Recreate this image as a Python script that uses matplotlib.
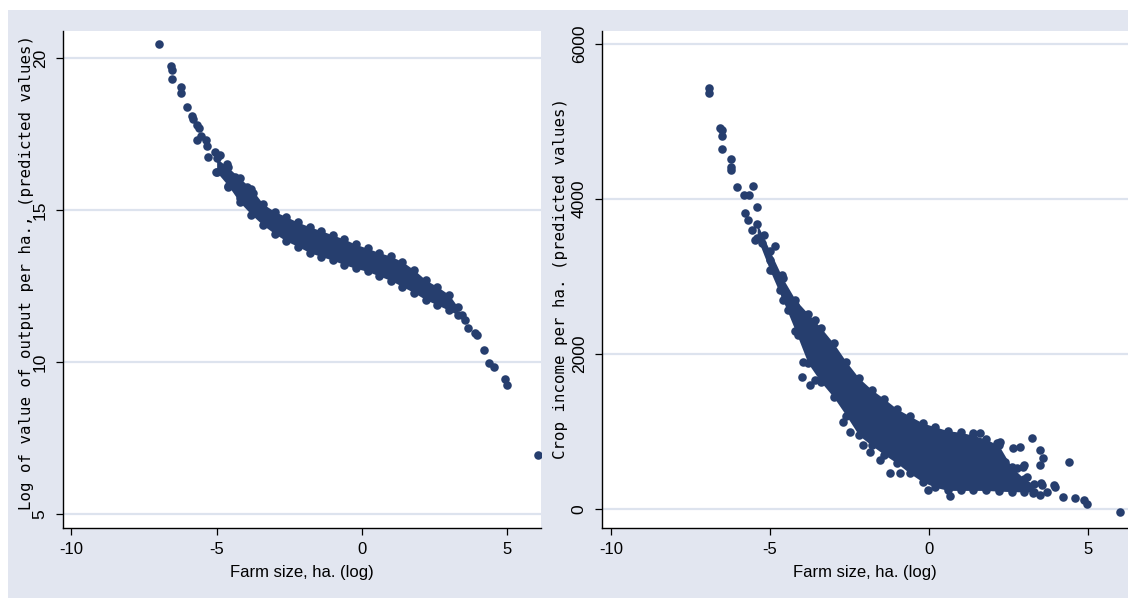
import matplotlib
matplotlib.use("Agg")
import matplotlib.pyplot as plt
from matplotlib import font_manager as fm
from matplotlib.patches import Rectangle

# --- fonts ---
names = {f.name for f in fm.fontManager.ttflist}
narrow = "Liberation Sans Narrow" if "Liberation Sans Narrow" in names else "Liberation Sans"

navy = "#263e6e"
bg = "#e2e6f0"
grid_c = "#dde3ee"

# --- left panel: log value of output per ha. ---
left_tail_x = [-6.97, -6.56, -6.54, -6.52, -6.24, -6.24, -6.02, -5.84, -5.83, -5.66,
               -5.59, -5.66, -5.55, -5.37, -5.34, -5.3, -5.07, -5.01, -4.9, -4.65,
               -4.62, -4.38, -4.2, -3.97, -3.75]
left_tail_y = [20.46, 19.73, 19.6, 19.3, 19.05, 18.85, 18.39, 18.1, 17.99, 17.8,
               17.7, 17.3, 17.45, 17.3, 17.1, 16.75, 16.92, 16.26, 16.8, 16.5,
               15.75, 16.1, 15.4, 15.75, 15.55]
left_band_x = [-5.0, -4.6, -4.2, -3.8, -3.4, -3.0, -2.6, -2.2, -1.8, -1.4, -1.0,
               -0.6, -0.2, 0.2, 0.6, 1.0, 1.4, 1.8, 2.2, 2.6, 3.0, 3.3]
left_band_top = [16.7, 16.4, 16.05, 15.7, 15.2, 14.95, 14.78, 14.6, 14.45, 14.32, 14.18,
                 14.04, 13.87, 13.74, 13.6, 13.48, 13.3, 13.03, 12.7, 12.48, 12.22, 11.82]
left_band_bot = [16.25, 15.8, 15.25, 14.85, 14.5, 14.22, 13.98, 13.8, 13.6, 13.47, 13.35,
                 13.2, 13.08, 12.98, 12.83, 12.68, 12.48, 12.28, 12.05, 11.88, 11.7, 11.55]
left_head_x = [3.44, 3.55, 3.66, 3.9, 3.95, 4.22, 4.39, 4.55, 4.93, 5.0, 6.07]
left_head_y = [11.55, 11.38, 11.12, 10.95, 10.9, 10.39, 9.97, 9.85, 9.44, 9.24, 6.94]

# --- right panel: crop income per ha. ---
right_tail_x = [-6.92, -6.92, -6.57, -6.52, -6.52, -6.52, -6.23, -6.23, -6.23, -6.02,
                -5.82, -5.65, -5.52, -5.79, -5.69, -5.57, -5.47, -5.41, -5.25, -5.19,
                -5.0, -4.84, -4.94, -4.69, -4.62, -4.53, -4.37, -4.43, -4.21, -4.06,
                -4.12, -3.9, -3.74, -3.58, -3.43]
right_tail_y = [5432, 5368, 4920, 4890, 4813, 4645, 4516, 4417, 4374, 4151,
                4051, 4051, 4168, 3820, 3729, 3600, 3471, 3897, 3432, 3535,
                3213, 3394, 3084, 2826, 3019, 2761, 2697, 2568, 2632, 2439,
                2245, 2503, 2374, 2439, 2181]
right_band_x = [-5.4, -5.0, -4.6, -4.2, -3.8, -3.4, -3.0, -2.6, -2.2, -1.8, -1.4, -1.0,
                -0.6, -0.2, 0.2, 0.6, 1.0, 1.4, 1.8, 2.2, 2.6, 3.0, 3.3]
right_band_top = [3680, 3330, 2980, 2700, 2520, 2340, 2140, 1900, 1690, 1540, 1420, 1290,
                  1200, 1110, 1060, 1010, 990, 950, 900, 820, 540, 390, 320]
right_band_bot = [3500, 3080, 2700, 2300, 1880, 1640, 1445, 1205, 950, 820, 700, 590,
                  460, 350, 280, 240, 240, 240, 240, 230, 225, 220, 220]
right_out_x = [3.23, 3.49, 3.6, 3.49, 4.41, 2.86, 2.65, 2.23, 2.39, 2.99, 2.76, 2.49,
               3.07, 3.54, 3.93, 3.7, 3.49, 4.22, 4.59, 4.87, 4.98, 6.0, 0.66, -0.02,
               -0.91, -1.23, -1.54, -1.86, -2.07, -2.48, -2.69, -3.95, -3.58, 1.39,
               1.6, 2.13, 3.96, 3.57, 2.96, 2.55, 3.28, -4.0, -3.75]
right_out_y = [912, 761, 654, 568, 611, 804, 783, 869, 611, 568, 525, 481,
               417, 331, 310, 224, 181, 159, 138, 116, 64, -35, 168, 245,
               460, 460, 632, 740, 826, 997, 1127, 1901, 1665, 977,
               977, 848, 288, 310, 546, 464, 206, 1700, 1600]

x_ticks = [-10, -5, 0, 5]
left_yticks = [5, 10, 15, 20]
right_yticks = [0, 2000, 4000, 6000]

fig = plt.figure(figsize=(11.28, 5.98), dpi=100)
fig.patch.set_facecolor("white")
fig.patches.append(Rectangle((8 / 1128, 0), 1, (598 - 10) / 598, transform=fig.transFigure,
                             facecolor=bg, edgecolor="none", zorder=-10))

axL = fig.add_axes([63 / 1128, (598 - 528) / 598, (541 - 63) / 1128, (528 - 31) / 598])
axR = fig.add_axes([602 / 1128, (598 - 528) / 598, (1128 - 602) / 1128, (528 - 31) / 598])

ms = 38


def draw_cloud(ax, bx, btop, bbot, *extra):
    ax.fill_between(bx, bbot, btop, color=navy, lw=0, zorder=3)
    ax.scatter(bx, btop, s=ms, color=navy, lw=0, zorder=3)
    ax.scatter(bx, bbot, s=ms, color=navy, lw=0, zorder=3)
    for ex, ey in extra:
        ax.scatter(ex, ey, s=ms, color=navy, lw=0, zorder=3)


draw_cloud(axL, left_band_x, left_band_top, left_band_bot,
           (left_tail_x, left_tail_y), (left_head_x, left_head_y))
draw_cloud(axR, right_band_x, right_band_top, right_band_bot,
           (right_tail_x, right_tail_y), (right_out_x, right_out_y))

axL.set_xlim(-10.29, 6.17)
axL.set_ylim(4.54, 20.89)
axR.set_xlim(-10.28, 6.26)
axR.set_ylim(-245, 6168)

for ax, yt in ((axL, left_yticks), (axR, right_yticks)):
    ax.set_facecolor("white")
    ax.set_xticks(x_ticks)
    ax.set_yticks(yt)
    ax.set_xticklabels([str(t) for t in x_ticks], fontfamily=narrow, fontsize=12)
    ax.set_yticklabels([str(t) for t in yt], fontfamily="Liberation Sans", fontsize=12.5,
                       rotation=90, va="center")
    for s in ("top", "right"):
        ax.spines[s].set_visible(False)
    for s in ("left", "bottom"):
        ax.spines[s].set_linewidth(1.0)
        ax.spines[s].set_color("black")
    ax.tick_params(axis="both", direction="out", length=5, width=0.9, color="black")
    ax.tick_params(axis="x", pad=5)
    ax.tick_params(axis="y", pad=6)
    ax.yaxis.grid(True, color=grid_c, lw=1.6, zorder=1)
    ax.set_axisbelow(True)
    ax.set_xlabel("Farm size, ha. (log)", fontfamily=narrow, fontsize=12)
    ax.xaxis.label.set_va("center")
    ax.xaxis.set_label_coords(0.5, -(572 - 528) / 497)

# Stata draws the vertical titles with wide letter spacing; a monospaced face gets close
axL.set_ylabel("Log of value of output per ha., (predicted values)",
               fontfamily="DejaVu Sans Mono", fontsize=11.3)
axL.yaxis.label.set_va("center")
axL.yaxis.set_label_coords((27 - 63) / 478, 0.515)

axR.set_ylabel("Crop income per ha. (predicted values)",
               fontfamily="DejaVu Sans Mono", fontsize=11.3)
axR.yaxis.label.set_va("center")
axR.yaxis.set_label_coords((561 - 602) / 526, 0.503)

fig.savefig("out.png", dpi=100, facecolor=fig.get_facecolor())
